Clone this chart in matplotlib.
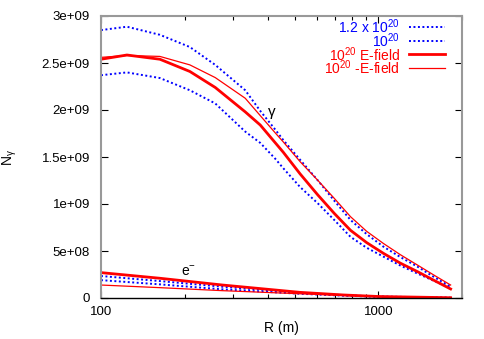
import matplotlib
matplotlib.use("Agg")
import matplotlib.pyplot as plt
from matplotlib.ticker import FixedLocator, NullFormatter, FuncFormatter

plt.rcParams['font.family'] = ['Liberation Sans', 'DejaVu Sans']
plt.rcParams['mathtext.fontset'] = 'custom'
plt.rcParams['mathtext.rm'] = 'Liberation Sans'
plt.rcParams['mathtext.it'] = 'Liberation Sans:italic'

# photon curves (units of 1e9)
R_g = [100, 124, 163, 209, 258, 331, 375, 425, 454, 522, 603, 693, 793, 906, 1042, 1200, 1383, 1592, 1820]
g_12 = [2.85, 2.886, 2.80, 2.67, 2.48, 2.21, 1.99, 1.79, 1.68, 1.47, 1.255, 1.035, 0.83, 0.68, 0.546, 0.435, 0.333, 0.22, 0.12]
g_10 = [2.37, 2.40, 2.34, 2.21, 2.07, 1.77, 1.65, 1.48, 1.38, 1.18, 1.01, 0.83, 0.65, 0.535, 0.44, 0.345, 0.26, 0.18, 0.106]
g_Ep = [2.54, 2.585, 2.54, 2.41, 2.24, 1.98, 1.84, 1.65, 1.55, 1.32, 1.10, 0.90, 0.72, 0.59, 0.475, 0.37, 0.28, 0.185, 0.096]
g_Em = [2.56, 2.58, 2.57, 2.48, 2.345, 2.125, 1.94, 1.755, 1.66, 1.45, 1.255, 1.06, 0.865, 0.71, 0.58, 0.46, 0.35, 0.24, 0.138]

# electron curves (units of 1e9)
R_e = [100, 163, 274, 522, 750, 1000, 1820]
e_12 = [0.234, 0.18, 0.12, 0.055, 0.03, 0.016, 0.003]
e_10 = [0.19, 0.145, 0.092, 0.045, 0.025, 0.013, 0.002]
e_Ep = [0.27, 0.21, 0.138, 0.06, 0.032, 0.016, 0.003]
e_Em = [0.138, 0.11, 0.078, 0.045, 0.027, 0.014, 0.003]

labels = [r'1.2 x 10$^{20}$', r'10$^{20}$', r'10$^{20}$ E-field', r'10$^{20}$ -E-field']
yticks = [0, 0.5e9, 1e9, 1.5e9, 2e9, 2.5e9, 3e9]
ytick_labels = ['0', '5e+08', '1e+09', '1.5e+09', '2e+09', '2.5e+09', '3e+09']

W, H = 485, 339
AX_L, AX_R, AX_T, AX_B = 101, 462, 16, 298
fig = plt.figure(figsize=(W/100, H/100), dpi=100)
ax = fig.add_axes([AX_L/W, (H-AX_B)/H, (AX_R-AX_L)/W, (AX_B-AX_T)/H])

blue = '#0000ff'
red = '#ff0000'
s = 1e9
dot = dict(color=blue, lw=1.4, linestyle=(0, (1, 1.3)))
thick = dict(color=red, lw=2.0)
thin = dict(color=red, lw=0.9)
styles = [dot, dot, thick, thin]
colors = [blue, blue, red, red]

for R, ys, st in [(R_g, g_12, dot), (R_g, g_10, dot), (R_g, g_Ep, thick), (R_g, g_Em, thin),
                  (R_e, e_12, dot), (R_e, e_10, dot), (R_e, e_Ep, thick), (R_e, e_Em, thin)]:
    ax.plot(R, [v*s for v in ys], **st)

ax.set_xscale('log')
ax.set_xlim(100, 2000)
ax.set_ylim(0, 3e9)
ax.xaxis.set_major_locator(FixedLocator([100, 1000]))
ax.xaxis.set_major_formatter(FuncFormatter(lambda v, p: '%d' % round(v)))
ax.xaxis.set_minor_locator(FixedLocator([200, 300, 400, 500, 600, 700, 800, 900, 2000]))
ax.xaxis.set_minor_formatter(NullFormatter())
ax.set_yticks(yticks)
ax.set_yticklabels(ytick_labels)
ax.tick_params(which='both', direction='in', top=True, right=True, labelsize=9.5, width=0.8, color='black')
ax.tick_params(which='major', length=5)
ax.tick_params(which='minor', length=3)
ax.tick_params(axis='y', pad=8)
ax.tick_params(axis='x', pad=6)

for sp in ['left', 'top', 'right']:
    ax.spines[sp].set_color('#999999')
    ax.spines[sp].set_linewidth(1.5)
ax.spines['bottom'].set_color('black')
ax.spines['bottom'].set_linewidth(1.0)

ax.set_xlabel('R (m)', fontsize=10, labelpad=2)
ax.set_ylabel(r'N$_{\mathrm{γ}}$', fontsize=10, labelpad=16)

ax.text(411, 1.98e9, 'γ', fontsize=11, ha='center', va='center')
ax.text(206, 0.28e9, r'e$^{-}$', fontsize=10, ha='center', va='center')

# key (gnuplot style: text right-aligned, sample to the right)
def fx(px):
    return (px - AX_L) / (AX_R - AX_L)

def fy(py):
    return (AX_B - py) / (AX_B - AX_T)

for i, (lab, st, c) in enumerate(zip(labels, styles, colors)):
    row = 27 + 13.7 * i
    ax.text(fx(400), fy(row + 6.3), lab, color=c, fontsize=10, ha='right', va='baseline',
            transform=ax.transAxes)
    ax.plot([fx(409), fx(445)], [fy(row), fy(row)], transform=ax.transAxes, clip_on=False, **st)

fig.savefig('out.png', dpi=100)
